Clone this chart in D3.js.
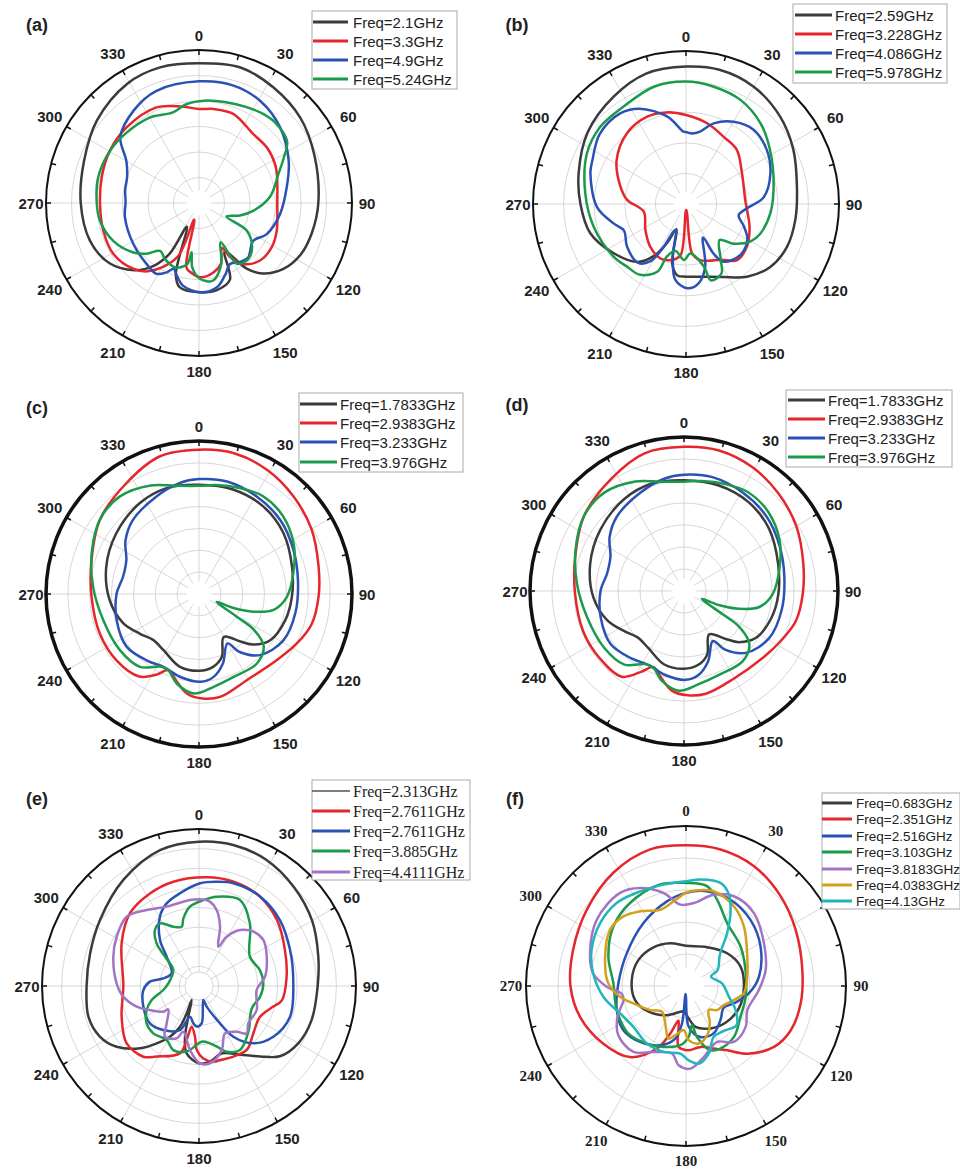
<!DOCTYPE html>
<html><head><meta charset="utf-8">
<script src="https://cdn.jsdelivr.net/npm/d3@7/dist/d3.min.js"></script>
<style>body{margin:0;background:#fff}</style>
</head><body>
<svg id="chart" width="960" height="1171"></svg>
<script>
// ---------------- DATA ----------------
const angleLabels = [0,30,60,90,120,150,180,210,240,270,300,330];

// (a)
const legendA = ["Freq=2.1GHz","Freq=3.3GHz","Freq=4.9GHz","Freq=5.24GHz"];
const a_21 = [[0,.913],[17,.926],[33,.898],[50,.865],[68,.815],[90,.78],[105,.763],[117,.745],[128,.70],[138,.62],[144,.53],[152,.36],[158,.54],[168,.58],[180,.584],[193,.565],[198,.49],[207,.175],[210,.38],[216,.51],[224,.61],[236,.705],[251,.754],[270,.773],[290,.80],[309,.858],[329,.91],[344,.922]];
const a_33 = [[0,.614],[9,.622],[21,.624],[38,.574],[51,.573],[63,.558],[70,.542],[92,.512],[110,.54],[121,.556],[133,.549],[144,.493],[150,.41],[153,.33],[160,.42],[168,.463],[179,.486],[186,.46],[191,.43],[196,.113],[202,.384],[216,.55],[225,.608],[239,.651],[254,.651],[270,.647],[285,.658],[300,.675],[316,.684],[336,.684],[350,.64]];
const a_49 = [[0,.795],[16,.80],[31,.778],[47,.725],[65,.647],[80,.582],[98,.534],[115,.486],[125,.432],[138,.48],[145,.47],[153,.447],[160,.50],[168,.563],[179,.584],[191,.55],[198,.486],[201,.46],[205,.50],[211,.54],[221,.525],[238,.506],[259,.493],[271,.48],[280,.49],[290,.50],[300,.548],[310,.671],[325,.741],[339,.784]];
const a_524 = [[3,.67],[15,.682],[26,.699],[36,.718],[44,.724],[55,.703],[62,.627],[70,.552],[85,.466],[98,.36],[107,.28],[116,.20],[120,.36],[130,.453],[139,.488],[148,.468],[151,.293],[160,.425],[170,.516],[179,.497],[186,.423],[188.5,.326],[191,.407],[200,.449],[211,.429],[219,.403],[226,.477],[233,.537],[246,.612],[260,.658],[271,.669],[284,.68],[300,.675],[314,.66],[330,.645],[344,.616],[353,.652]];

// (b)
const legendB = ["Freq=2.59GHz","Freq=3.228GHz","Freq=4.086GHz","Freq=5.978GHz"];
const b_259 = [[0,.898],[14,.904],[30,.885],[47,.84],[63,.787],[81,.734],[98,.722],[113,.717],[127,.687],[140,.62],[153,.535],[169,.484],[180,.475],[187,.47],[193,.399],[201,.177],[206,.285],[212,.404],[220,.495],[236,.573],[253,.654],[270,.69],[286,.73],[306,.795],[326,.846],[343,.891]];
const b_3228 = [[0,.582],[15,.545],[29,.504],[43,.486],[61,.418],[86,.388],[110,.442],[125,.486],[138,.495],[148,.429],[158,.40],[166,.378],[173,.325],[178,.04],[186,.335],[194,.377],[205,.393],[220,.364],[237,.316],[260,.281],[274,.386],[285,.444],[302,.535],[320,.602],[336,.625],[348,.612]];
const b_4086 = [[0,.47],[5,.463],[11,.482],[19,.557],[30,.621],[42,.656],[56,.636],[70,.587],[85,.51],[94,.40],[102,.352],[111,.405],[120,.463],[133,.487],[147,.45],[151,.37],[153,.245],[163,.429],[171,.525],[179,.551],[188,.501],[194,.354],[202,.184],[208,.339],[212,.443],[219,.496],[234,.476],[247,.441],[255,.49],[268,.582],[288,.657],[295,.675],[309,.726],[324,.732],[334,.693],[348,.584],[358,.473]];
const b_5978 = [[0,.80],[13,.788],[28,.767],[43,.717],[57,.654],[77,.588],[96,.555],[112,.522],[120,.488],[130,.404],[137,.322],[148,.429],[153,.51],[162,.525],[164,.425],[175,.324],[182,.366],[193,.313],[200,.366],[203,.481],[213,.552],[223,.562],[234,.585],[256,.621],[276,.662],[297,.727],[312,.754],[327,.756],[345,.795]];

// (c)
const legendC = ["Freq=1.7833GHz","Freq=2.9383GHz","Freq=3.233GHz","Freq=3.976GHz"];
const c_17833 = [[0,.714],[18,.718],[36,.71],[54,.681],[74,.633],[92,.607],[107,.589],[123,.555],[133,.485],[139,.412],[150,.324],[160,.437],[169,.485],[180,.502],[195,.491],[212,.435],[225,.424],[236,.465],[249,.531],[266,.585],[286,.631],[306,.67],[327,.709],[343,.724]];
const c_29383 = [[0,.943],[14,.948],[29,.925],[44,.888],[60,.849],[77,.802],[91,.782],[105,.762],[117,.716],[130,.668],[151,.644],[168,.686],[178,.684],[187,.655],[195,.583],[202,.537],[208,.598],[216,.666],[231,.692],[248,.698],[269,.703],[288,.738],[307,.81],[327,.867],[344,.935]];
const c_3233 = [[0,.751],[14,.758],[31,.74],[48,.718],[65,.681],[82,.653],[101,.642],[119,.629],[135,.565],[145,.463],[150,.373],[161,.48],[170,.55],[179,.574],[193,.555],[206,.53],[218,.552],[234,.585],[252,.565],[270,.539],[283,.509],[295,.524],[306,.594],[318,.648],[336,.694],[350,.736]];
const c_3976 = [[0,.707],[9,.721],[21,.742],[33,.764],[47,.749],[62,.701],[76,.638],[92,.574],[102,.498],[108,.374],[112,.244],[113.5,.126],[121,.288],[123,.427],[129,.544],[140,.591],[157,.587],[171,.614],[183,.651],[194,.603],[202,.537],[208,.537],[219,.613],[235,.634],[255,.649],[274,.694],[291,.751],[307,.81],[321,.821],[336,.777],[348,.723]];

// (d)
const legendD = ["Freq=1.7833GHz","Freq=2.9383GHz","Freq=3.233GHz","Freq=3.976GHz"];
const d_17833 = [[0,.719],[18,.722],[36,.713],[54,.684],[74,.636],[92,.613],[107,.594],[123,.558],[133,.487],[139,.413],[150,.326],[160,.44],[169,.488],[180,.505],[195,.494],[212,.437],[225,.426],[236,.467],[249,.533],[266,.59],[286,.634],[306,.673],[327,.712],[343,.728]];
const d_29383 = [[0,.936],[14,.94],[29,.918],[44,.882],[60,.842],[77,.795],[91,.772],[105,.752],[117,.708],[130,.672],[151,.655],[168,.682],[178,.678],[187,.652],[195,.58],[202,.532],[208,.595],[216,.688],[231,.70],[248,.705],[269,.708],[288,.742],[307,.812],[327,.868],[344,.93]];
const d_3233 = [[0,.755],[14,.762],[31,.744],[48,.722],[65,.686],[82,.658],[101,.646],[119,.632],[135,.568],[145,.465],[150,.375],[161,.482],[170,.552],[179,.577],[193,.558],[206,.533],[218,.555],[234,.588],[252,.568],[270,.542],[283,.512],[295,.527],[306,.597],[318,.651],[336,.698],[350,.74]];
const d_3976 = [[0,.71],[9,.723],[21,.744],[33,.765],[47,.75],[62,.703],[76,.64],[92,.576],[102,.50],[108,.375],[112,.244],[113.5,.126],[121,.288],[123,.428],[129,.546],[140,.594],[157,.59],[171,.612],[183,.648],[194,.6],[202,.535],[208,.537],[219,.615],[235,.636],[255,.652],[274,.697],[291,.754],[307,.812],[321,.822],[336,.778],[348,.725]];

// (e)
const legendE = ["Freq=2.313GHz","Freq=2.7611GHz","Freq=2.7611GHz","Freq=3.885GHz","Freq=4.4111GHz"];
const e_2313 = [[0,.919],[14,.924],[28,.911],[44,.873],[60,.832],[76,.783],[90,.756],[107,.749],[120,.73],[131,.682],[139,.594],[149,.511],[161,.453],[172,.487],[180,.493],[190.4,.436],[195.4,.335],[199.2,.206],[207.6,.10],[204.3,.191],[205,.286],[209.8,.372],[216.4,.454],[223.4,.546],[233.6,.652],[243,.709],[254.5,.731],[270,.716],[286.7,.724],[303.7,.758],[324.5,.83],[344,.90]];
const e_27611a = [[4,.694],[18,.70],[34,.69],[50,.65],[67,.594],[84,.561],[100,.535],[105.5,.491],[117,.435],[131,.459],[143,.508],[154,.50],[164,.49],[169.3,.49],[176.6,.462],[182,.408],[184.5,.324],[190.2,.263],[192.9,.353],[195.8,.446],[211,.524],[218.2,.573],[231.6,.588],[248.4,.53],[270,.482],[298.9,.563],[316.5,.639],[332.1,.667],[346.2,.684]];
const e_27611b = [[0.6,.654],[9.6,.673],[18.5,.69],[34.3,.69],[50.8,.665],[68.4,.624],[88.4,.601],[108.6,.612],[124.3,.573],[136.5,.503],[145.9,.39],[150.6,.273],[159.6,.14],[162.8,.093],[175.9,.238],[183.3,.259],[188.6,.24],[196.4,.204],[203.4,.306],[219,.361],[232.7,.393],[249.6,.378],[265.9,.355],[275.1,.314],[282.1,.232],[294.9,.192],[312.2,.278],[319.7,.384],[330.6,.507],[338.6,.565],[348.4,.603]];
const e_3885 = [[2.9,.548],[11.2,.58],[25.5,.607],[39.1,.514],[60.1,.374],[75.3,.401],[87.6,.41],[99.9,.395],[113,.365],[132.8,.429],[147.4,.484],[157.2,.454],[161.4,.419],[169.1,.372],[177.3,.355],[190.6,.425],[201.9,.44],[210.9,.401],[224,.419],[234.5,.41],[245.4,.367],[253.5,.314],[263.6,.229],[275,.196],[301.9,.193],[310.8,.286],[315.2,.383],[321.8,.454],[328.1,.47],[336.6,.412],[343.7,.393],[347,.442],[353.5,.509]];
const e_44111 = [[2.9,.552],[7.4,.542],[13.1,.497],[19.5,.401],[26.2,.279],[29.3,.36],[36.2,.442],[45,.49],[54.4,.504],[66.6,.47],[81.9,.425],[94,.368],[112.6,.398],[127.1,.394],[134.8,.428],[140.5,.378],[151.2,.344],[160.5,.433],[171.9,.497],[179.3,.493],[188,.412],[198.9,.308],[203.1,.363],[213.9,.389],[220.9,.314],[232.7,.246],[234.3,.28],[243.9,.348],[251.7,.418],[262,.487],[271.9,.525],[288.9,.577],[300.9,.611],[313.8,.638],[325.4,.588],[337.8,.546],[354,.551]];

// (f)
const legendF = ["Freq=0.683GHz","Freq=2.351GHz","Freq=2.516GHz","Freq=3.103GHz","Freq=3.8183GHz","Freq=4.0383GHz","Freq=4.13GHz"];
const f_0683 = [[0,.251],[28.5,.276],[51.5,.329],[70.4,.362],[90.7,.362],[113,.359],[133,.337],[150,.306],[167,.262],[175.3,.204],[185,.16],[192.5,.165],[213.2,.218],[235.5,.284],[254.6,.33],[276.3,.341],[298.8,.339],[320,.316],[339.8,.285]];
const f_2351 = [[0,.879],[14.2,.88],[29.6,.861],[46.6,.815],[62.9,.77],[82.1,.734],[98.6,.725],[112.9,.711],[124.7,.669],[137.8,.571],[147.4,.477],[156.1,.428],[166.7,.391],[177.6,.402],[186.9,.383],[190.2,.26],[192.5,.22],[198.3,.313],[204.9,.431],[218.2,.565],[235.1,.63],[253.8,.69],[270,.722],[287.8,.741],[307.5,.782],[327.3,.841],[345.3,.883]];
const f_2516 = [[0,.582],[12.6,.607],[27.3,.607],[44.3,.577],[62.1,.527],[82.7,.46],[96.7,.395],[110,.318],[119.5,.272],[134.7,.303],[149.7,.343],[164.2,.331],[176.2,.255],[182,.05],[186.1,.236],[191.5,.335],[203.5,.404],[219.4,.452],[234.8,.479],[250.8,.458],[272.3,.423],[299,.423],[326,.475],[347.3,.542]];
const f_3103 = [[0,.644],[11.9,.638],[19.8,.573],[33.2,.47],[54.1,.421],[74.9,.385],[100.2,.379],[119.4,.391],[136.7,.437],[151.2,.446],[159.2,.429],[167.8,.326],[171.3,.247],[177,.318],[185.5,.372],[200.2,.406],[214.2,.435],[230.5,.467],[250.8,.458],[272.1,.454],[290.8,.519],[309.4,.587],[326,.626],[345.7,.655]];
const f_38183 = [[5.3,.521],[16.9,.596],[28.1,.636],[43,.623],[61.2,.556],[78.6,.508],[93.2,.456],[111.5,.412],[124.4,.452],[139.4,.46],[150.9,.40],[166,.458],[177,.517],[185.3,.498],[191.7,.431],[206.2,.46],[218.6,.527],[234,.523],[245.8,.47],[257.3,.401],[262.9,.404],[269.5,.496],[277.8,.586],[288.9,.634],[306.6,.695],[324.7,.713],[334.9,.676],[346.4,.598],[356,.51]];
const f_40383 = [[0.6,.586],[6.6,.602],[16.3,.617],[31,.581],[44.2,.519],[64.3,.425],[81.3,.387],[97.2,.364],[106.4,.312],[116.8,.265],[127.7,.246],[136.6,.207],[147.6,.278],[156.8,.335],[167.5,.368],[177.2,.339],[183,.276],[192.3,.315],[198.3,.346],[209,.268],[223,.22],[236,.27],[251.7,.346],[260.8,.418],[272,.486],[290,.538],[306.5,.59],[318,.585],[328.4,.548],[341.3,.503],[351.7,.535]];
const f_413 = [[0,.655],[7.7,.672],[18.5,.68],[25.1,.632],[31.4,.534],[37.9,.418],[47.4,.287],[63.2,.222],[69.5,.167],[85.8,.226],[104,.276],[115.9,.344],[127.8,.40],[139.9,.367],[151.4,.362],[161.4,.446],[170.7,.492],[177.9,.465],[184.8,.424],[198.8,.435],[214.2,.435],[232.2,.416],[247.4,.446],[262.6,.521],[277.8,.586],[291,.632],[306.2,.665],[320.1,.676],[334.2,.657],[347.5,.649]];

// ---------------- STYLE / LAYOUT ----------------
const K="#3b3b3b", RD="#e5262c", BL="#2a52b5", GR="#1c9a4c", PU="#a274c6", GO="#d2a01c", CY="#22b5b9";
const SANS = "Arial, 'Liberation Sans', sans-serif";
const SERIF = "'Times New Roman', 'Liberation Serif', serif";

const panels = [
  {tag:"(a)", tx:37, ty:25, cx:199, cy:203, R:153, rings:6, r0:.08, ow:2,
   labFont:SANS, series:[a_21,a_33,a_49,a_524], names:legendA, colors:[K,RD,BL,GR],
   lg:{x:312,y:11,w:145,h:78,rows:[22,41,60,79],l1:313,l2:348,t:353,font:SANS,size:15}},
  {tag:"(b)", tx:517, ty:25, cx:686, cy:204, R:153, rings:5, r0:.08, ow:2,
   labFont:SANS, series:[b_259,b_3228,b_4086,b_5978], names:legendB, colors:[K,RD,BL,GR],
   lg:{x:793,y:4,w:154,h:79,rows:[15,34,53,72],l1:795,l2:832,t:835,font:SANS,size:15}},
  {tag:"(c)", tx:37, ty:408, cx:199, cy:594, R:153, rings:7, r0:.08, ow:3.5,
   labFont:SANS, series:[c_17833,c_29383,c_3233,c_3976], names:legendC, colors:[K,RD,BL,GR],
   lg:{x:299,y:393,w:164,h:79,rows:[404,423,442,462],l1:300,l2:337,t:340,font:SANS,size:15}},
  {tag:"(d)", tx:517, ty:405, cx:684, cy:591, R:154, rings:7, r0:.08, ow:3.5,
   labFont:SANS, series:[d_17833,d_29383,d_3233,d_3976], names:legendD, colors:[K,RD,BL,GR],
   lg:{x:786,y:390,w:166,h:77,rows:[400,419,438,457],l1:788,l2:825,t:828,font:SANS,size:15}},
  {tag:"(e)", tx:37, ty:799, cx:199, cy:986, R:157, rings:8, r0:.09, inner:.09, ow:2,
   labFont:SANS, series:[e_2313,e_27611a,e_27611b,e_3885,e_44111], names:legendE, colors:[K,RD,BL,GR,PU],
   lg:{x:312,y:780,w:158,h:100,rows:[791,811,831,851,872],l1:312,l2:350,t:353,font:SERIF,size:16,thinFirst:true}},
  {tag:"(f)", tx:515, ty:799, cx:686, cy:986, R:160, rings:5, r0:.11, ow:2,
   labFont:SERIF, series:[f_0683,f_2351,f_2516,f_3103,f_38183,f_40383,f_413], names:legendF, colors:[K,RD,BL,GR,PU,GO,CY],
   lg:{x:822,y:793,w:138,h:116,rows:[803,819,836,852,869,885,901],l1:822,l2:852,t:856,font:SANS,size:13.5}}
];

const svg = d3.select("#chart");
const rad = Math.PI/180;

panels.forEach(p => {
  const g = svg.append("g").attr("transform", `translate(${p.cx},${p.cy})`);
  const r = d3.scaleLinear().domain([0,1]).range([0,p.R]);

  // rings
  const ringVals = d3.range(1, p.rings).map(k => k/p.rings);
  if (p.inner) ringVals.push(p.inner);
  g.selectAll("circle.ring").data(ringVals).join("circle").attr("class","ring")
    .attr("r", d => r(d)).attr("fill","none").attr("stroke","#cdcdcd").attr("stroke-width",0.8);

  // spokes
  g.selectAll("line.spoke").data(d3.range(0,360,30)).join("line").attr("class","spoke")
    .attr("x1", d => r(p.r0)*Math.sin(d*rad)).attr("y1", d => -r(p.r0)*Math.cos(d*rad))
    .attr("x2", d => r(1)*Math.sin(d*rad)).attr("y2", d => -r(1)*Math.cos(d*rad))
    .attr("stroke","#cdcdcd").attr("stroke-width",0.8);

  // curves
  const line = d3.lineRadial()
    .angle(d => d[0]*rad).radius(d => r(d[1]))
    .curve(d3.curveCatmullRomClosed.alpha(0.5));
  p.series.forEach((s,i) => {
    g.append("path").attr("d", line(s)).attr("fill","none")
      .attr("stroke", p.colors[i]).attr("stroke-width", 2.5).attr("stroke-linejoin","round");
  });

  // outer circle
  g.append("circle").attr("r", r(1)).attr("fill","none").attr("stroke","#111").attr("stroke-width", p.ow);
  // ticks
  g.selectAll("line.tick").data(d3.range(0,360,15)).join("line").attr("class","tick")
    .attr("x1", d => r(1)*Math.sin(d*rad)).attr("y1", d => -r(1)*Math.cos(d*rad))
    .attr("x2", d => (r(1)-5)*Math.sin(d*rad)).attr("y2", d => -(r(1)-5)*Math.cos(d*rad))
    .attr("stroke","#111").attr("stroke-width",1.5);

  // angle labels
  g.selectAll("text.ang").data(angleLabels).join("text").attr("class","ang")
    .attr("x", d => (r(1) + 15 + 5*Math.abs(Math.sin(2*d*rad)))*Math.sin(d*rad))
    .attr("y", d => -(r(1) + 15 + 5*Math.abs(Math.sin(2*d*rad)))*Math.cos(d*rad))
    .attr("text-anchor","middle").attr("dominant-baseline","central")
    .attr("font-family", p.labFont).attr("font-weight","bold").attr("font-size",15).attr("fill","#222")
    .text(d => d);

  // panel tag
  svg.append("text").attr("x", p.tx).attr("y", p.ty).attr("text-anchor","middle").attr("dominant-baseline","central")
    .attr("font-family", SANS).attr("font-weight","bold").attr("font-size",18).attr("fill","#222").text(p.tag);

  // legend
  const L = p.lg;
  const lg = svg.append("g");
  lg.append("rect").attr("x",L.x).attr("y",L.y).attr("width",L.w).attr("height",L.h)
    .attr("fill","#fff").attr("stroke","#aaa").attr("stroke-width",1);
  p.names.forEach((nm,i) => {
    const thin = L.thinFirst && i===0;
    lg.append("line").attr("x1",L.l1).attr("x2",L.l2).attr("y1",L.rows[i]).attr("y2",L.rows[i])
      .attr("stroke", thin ? "#555" : p.colors[i]).attr("stroke-width", thin ? 1.5 : 3);
    lg.append("text").attr("x",L.t).attr("y",L.rows[i]).attr("dominant-baseline","central")
      .attr("font-family",L.font).attr("font-size",L.size).attr("fill","#222").text(nm);
  });
});
</script>
</body></html>
